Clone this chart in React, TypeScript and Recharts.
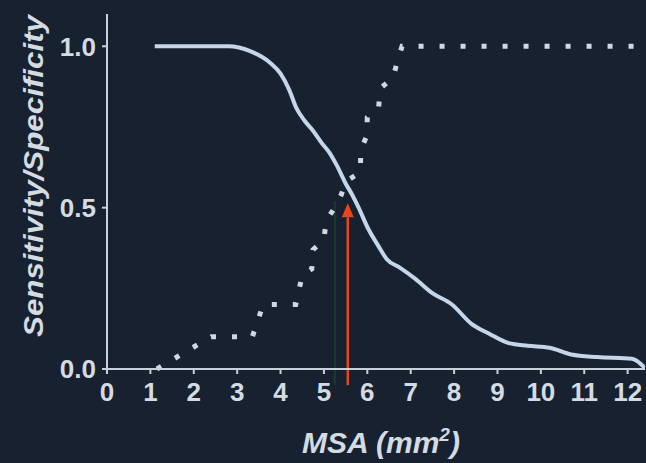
import { LineChart, Line, XAxis, YAxis, ReferenceLine, ReferenceDot, Label } from 'recharts';

const sensitivityMsa = [1.1, 2.8, 3.3, 3.75, 4.0, 4.2, 4.36, 4.55, 4.74, 4.95, 5.13, 5.3, 5.5, 5.65, 5.8, 6.0, 6.26, 6.45, 6.74, 7.1, 7.5, 7.95, 8.4, 8.8, 9.26, 9.7, 10.2, 10.7, 11.3, 12.1, 12.4];
const sensitivityValues = [1.0, 1.0, 0.985, 0.95, 0.915, 0.865, 0.81, 0.77, 0.74, 0.7, 0.67, 0.63, 0.575, 0.54, 0.5, 0.44, 0.38, 0.34, 0.315, 0.28, 0.235, 0.2, 0.14, 0.11, 0.08, 0.072, 0.066, 0.045, 0.037, 0.032, 0.003];

const specificityMsa = [1.15, 2.4, 3.35, 3.6, 4.35, 4.5, 4.72, 4.75, 5.0, 5.05, 5.25, 5.4, 5.5, 5.84, 5.85, 5.98, 6.0, 6.26, 6.3, 6.58, 6.8, 12.4];
const specificityValues = [0.0, 0.1, 0.1, 0.2, 0.2, 0.29, 0.31, 0.37, 0.4, 0.46, 0.5, 0.54, 0.58, 0.61, 0.68, 0.72, 0.78, 0.81, 0.87, 0.9, 1.0, 1.0];

const xTicks = [0, 1, 2, 3, 4, 5, 6, 7, 8, 9, 10, 11, 12];
const yTicks = [0, 0.5, 1.0];

const cutoff = 5.55;
const cutoffTop = 0.47;
const faintLine = 5.25;

const sensitivity = sensitivityMsa.map((x, i) => ({ x, y: sensitivityValues[i] }));
const specificity = specificityMsa.map((x, i) => ({ x, y: specificityValues[i] }));

const BG = '#172130';
const TEXT = '#d5dbe3';
const FONT = '"Liberation Sans", Arial, sans-serif';

const YTitle = () => (
  <text
    x={43}
    y={176}
    transform="rotate(-90 43 176)"
    textAnchor="middle"
    fill={TEXT}
    fontFamily={FONT}
    fontWeight="bold"
    fontStyle="italic"
    fontSize={27}
    textLength={322}
    lengthAdjust="spacingAndGlyphs"
  >
    Sensitivity/Specificity
  </text>
);

const XTitle = () => (
  <text x={381} y={453} textAnchor="middle" fill={TEXT} fontFamily={FONT} fontWeight="bold" fontStyle="italic" fontSize={30}>
    MSA (mm<tspan dy={-12} fontSize={19}>2</tspan>
    <tspan dy={12}>)</tspan>
  </text>
);

const ArrowHead = (props: any) => {
  const { cx, cy } = props;
  return <polygon points={`${cx - 6},${cy} ${cx + 6},${cy} ${cx},${cy - 14}`} fill="#e8461c" />;
};

export default function App() {
  return (
    <div style={{ position: 'fixed', left: 0, top: 0, width: 646, height: 463, background: BG }}>
      <LineChart width={646} height={463} data={sensitivity} margin={{ top: 14, right: 1, bottom: 0, left: 0 }}>
        <XAxis
          type="number"
          dataKey="x"
          domain={[0, 12.4]}
          ticks={xTicks}
          interval={0}
          allowDataOverflow
          height={94}
          stroke="#c8d0da"
          strokeWidth={2}
          tickSize={5}
          tickMargin={9}
          tick={{ fill: TEXT, fontSize: 26, fontWeight: 'bold', fontFamily: FONT }}
        >
          <Label content={XTitle} />
        </XAxis>
        <YAxis
          type="number"
          dataKey="y"
          domain={[0, 1.1]}
          ticks={yTicks}
          interval={0}
          width={107}
          stroke="#c8d0da"
          strokeWidth={2}
          tickSize={5}
          tickMargin={6}
          tickFormatter={(v: number) => v.toFixed(1)}
          tick={{ fill: TEXT, fontSize: 26, fontWeight: 'bold', fontFamily: FONT }}
        >
          <Label content={YTitle} />
        </YAxis>
        <ReferenceLine
          segment={[{ x: faintLine, y: -0.05 }, { x: faintLine, y: 0.52 }]}
          stroke="#1e3a2c"
          strokeWidth={2}
          ifOverflow="visible"
        />
        <Line
          data={specificity}
          dataKey="y"
          type="linear"
          stroke="#d0d8e4"
          strokeWidth={5}
          strokeDasharray="5 16"
          strokeLinecap="butt"
          dot={false}
          isAnimationActive={false}
        />
        <Line
          data={sensitivity}
          dataKey="y"
          type="monotone"
          stroke="#c6d6ea"
          strokeWidth={4}
          dot={false}
          isAnimationActive={false}
        />
        <ReferenceLine
          segment={[{ x: cutoff, y: -0.05 }, { x: cutoff, y: cutoffTop }]}
          stroke="#e8461c"
          strokeWidth={2.5}
          ifOverflow="visible"
        />
        <ReferenceDot x={cutoff} y={cutoffTop} shape={ArrowHead} ifOverflow="visible" />
      </LineChart>
    </div>
  );
}
